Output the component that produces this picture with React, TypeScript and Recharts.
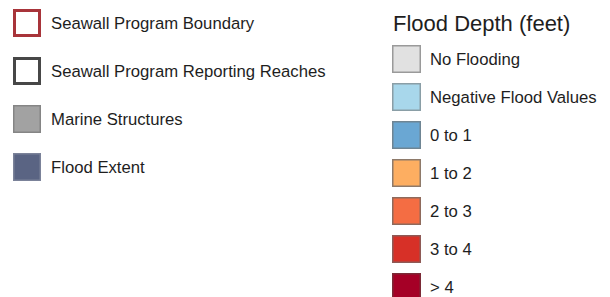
import React from "react";
import { ScatterChart, Scatter, XAxis, YAxis } from "recharts";

const FONT = "'Liberation Sans', Arial, Helvetica, sans-serif";

// left legend: map layers
const layerLabels = [
  "Seawall Program Boundary",
  "Seawall Program Reporting Reaches",
  "Marine Structures",
  "Flood Extent",
];
const layerFills = ["#ffffff", "#ffffff", "#a2a2a2", "#5a6483"];
const layerStrokes = ["#a8343a", "#474747", "#858585", "#7b8299"];
const layerStrokeWidths = [3, 3, 1.5, 1.5];

// right legend: flood depth classes
const depthTitle = "Flood Depth (feet)";
const depthLabels = [
  "No Flooding",
  "Negative Flood Values",
  "0 to 1",
  "1 to 2",
  "2 to 3",
  "3 to 4",
  "> 4",
];
const depthFills = ["#e1e1e1", "#a8d7eb", "#6aa7d3", "#fdae61", "#f46d43", "#d73027", "#a50026"];
const depthStrokes = ["#9a9a9a", "#8a9ea6", "#6f8593", "#8e7a6a", "#8e6a5c", "#8e5a56", "#7a2a36"];

const layerRows = layerLabels.map((label, i) => ({
  label,
  x: 0,
  fill: layerFills[i],
  stroke: layerStrokes[i],
  sw: layerStrokeWidths[i],
}));

const depthRows = depthLabels.map((label, i) => ({
  label,
  x: 0,
  fill: depthFills[i],
  stroke: depthStrokes[i],
  sw: 1.5,
}));

const makeSwatch = (w: number, h: number) => (props: any) => {
  const { cx, cy, payload } = props;
  const s = payload.sw;
  return (
    <rect
      x={cx - w / 2 + s / 2}
      y={cy - h / 2 + s / 2}
      width={w - s}
      height={h - s}
      fill={payload.fill}
      stroke={payload.stroke}
      strokeWidth={s}
    />
  );
};

function SwatchLegend({
  rows,
  width,
  height,
  margin,
  axisWidth,
  tickMargin,
  swatchW,
  swatchH,
}: {
  rows: any[];
  width: number;
  height: number;
  margin: { top: number; right: number; bottom: number; left: number };
  axisWidth: number;
  tickMargin: number;
  swatchW: number;
  swatchH: number;
}) {
  return (
    <ScatterChart width={width} height={height} margin={margin}>
      <XAxis type="number" dataKey="x" domain={[-1, 1]} hide />
      <YAxis
        type="category"
        dataKey="label"
        orientation="right"
        width={axisWidth}
        axisLine={false}
        tickLine={false}
        tickSize={0}
        tickMargin={tickMargin}
        interval={0}
        reversed
        tick={{ fill: "#1e1e1e", fontSize: 16.7, fontFamily: FONT, textAnchor: "start" }}
      />
      <Scatter data={rows} shape={makeSwatch(swatchW, swatchH)} isAnimationActive={false} />
    </ScatterChart>
  );
}

export default function App() {
  return (
    <div
      style={{
        position: "absolute",
        left: 0,
        top: 0,
        width: 610,
        height: 297,
        overflow: "hidden",
        background: "#ffffff",
        fontFamily: FONT,
      }}
    >
      <div style={{ position: "absolute", left: 0, top: -1 }}>
        <SwatchLegend
          rows={layerRows}
          width={380}
          height={192}
          margin={{ top: 0, right: 0, bottom: 0, left: 13 }}
          axisWidth={339}
          tickMargin={10}
          swatchW={28}
          swatchH={28}
        />
      </div>
      <div
        style={{
          position: "absolute",
          left: 393,
          top: 13,
          fontSize: 22,
          lineHeight: "22px",
          color: "#1e1e1e",
          whiteSpace: "nowrap",
        }}
      >
        {depthTitle}
      </div>
      <div style={{ position: "absolute", left: 380, top: 0 }}>
        <SwatchLegend
          rows={depthRows}
          width={230}
          height={310}
          margin={{ top: 40, right: 0, bottom: 4, left: 12 }}
          axisWidth={189}
          tickMargin={9}
          swatchW={29}
          swatchH={28}
        />
      </div>
    </div>
  );
}
